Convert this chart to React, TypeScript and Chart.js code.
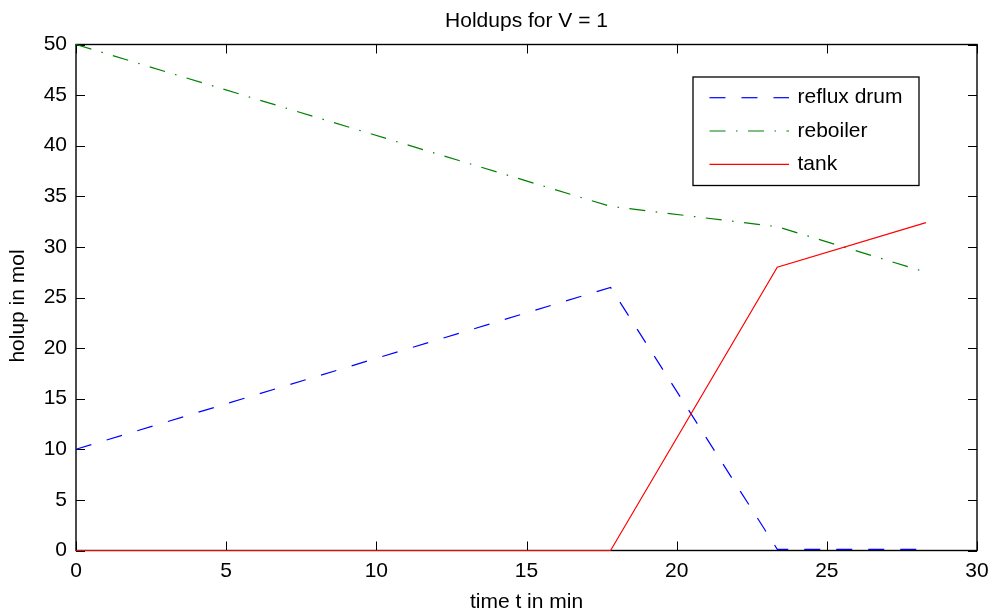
import React, { useEffect, useRef } from "react";
import { Chart, registerables } from "chart.js";

Chart.register(...registerables);

// ---- data ----
const times = [0, 17.8, 23.35, 28.3];
const refluxDrum = [10, 26, 0.12, 0.12];
const reboiler = [50, 34, 32, 27.5];
const tank = [0, 0, 28, 32.4];
const seriesLabels = ["reflux drum", "reboiler", "tank"];
const chartTitle = "Holdups for V = 1";
const xTitle = "time t in min";
const yTitle = "holup in mol";
const xMin = 0, xMax = 30, xStep = 5;
const yMin = 0, yMax = 50, yStep = 5;

const FONT = "'Liberation Sans', Arial, Helvetica, sans-serif";

const toPoints = (ys: number[]) => ys.map((y, i) => ({ x: times[i], y }));

const boxPlugin = {
  id: "matlabBox",
  beforeDatasetsDraw(chart: any) {
    const { ctx, chartArea } = chart;
    const { left, right, top, bottom } = chartArea;
    ctx.save();
    ctx.strokeStyle = "#000";
    ctx.lineWidth = 1;
    const tl = 9;
    const xs = chart.scales.x;
    const ys = chart.scales.y;
    ctx.beginPath();
    xs.ticks.forEach((t: any) => {
      const px = Math.round(xs.getPixelForValue(t.value)) + 0.5;
      ctx.moveTo(px, bottom);
      ctx.lineTo(px, bottom - tl);
      ctx.moveTo(px, top);
      ctx.lineTo(px, top + tl);
    });
    ys.ticks.forEach((t: any) => {
      const py = Math.round(ys.getPixelForValue(t.value)) + 0.5;
      ctx.moveTo(left, py);
      ctx.lineTo(left + tl, py);
      ctx.moveTo(right, py);
      ctx.lineTo(right - tl, py);
    });
    ctx.stroke();
    ctx.lineWidth = 1.4;
    ctx.strokeRect(left, top, right - left, bottom - top);
    ctx.restore();
  },
  afterDraw(chart: any) {
    const { ctx, chartArea } = chart;
    ctx.save();
    ctx.translate(18, (chartArea.top + chartArea.bottom) / 2 + 8.5);
    ctx.rotate(-Math.PI / 2);
    ctx.fillStyle = "#000";
    ctx.font = `21px ${FONT}`;
    ctx.textAlign = "center";
    ctx.textBaseline = "middle";
    ctx.fillText(yTitle, 0, 0);
    ctx.restore();
  },
};

const legendPlugin = {
  id: "matlabLegend",
  afterDraw(chart: any) {
    const { ctx, chartArea } = chart;
    const ds = chart.data.datasets;
    const boxRight = chartArea.right - 58;
    const boxLeft = boxRight - 226;
    const boxTop = chartArea.top + 32.5;
    const rowH = 33.3;
    const boxH = 108.5;
    ctx.save();
    ctx.fillStyle = "#fff";
    ctx.fillRect(boxLeft, boxTop, boxRight - boxLeft, boxH);
    ctx.strokeStyle = "#000";
    ctx.lineWidth = 1.3;
    ctx.strokeRect(boxLeft, boxTop, boxRight - boxLeft, boxH);
    ds.forEach((d: any, i: number) => {
      const y = boxTop + 20.7 + i * rowH;
      ctx.beginPath();
      ctx.strokeStyle = d.borderColor;
      ctx.lineWidth = d.borderWidth;
      ctx.setLineDash(d.borderDash || []);
      ctx.moveTo(boxLeft + 16.5, y);
      ctx.lineTo(boxLeft + 96, y);
      ctx.stroke();
      ctx.setLineDash([]);
      ctx.fillStyle = "#000";
      ctx.font = `21px ${FONT}`;
      ctx.textBaseline = "middle";
      ctx.textAlign = "left";
      ctx.fillText(d.label, boxLeft + 104.5, y);
    });
    ctx.restore();
  },
};

export default function App() {
  const ref = useRef<HTMLCanvasElement | null>(null);
  useEffect(() => {
    document.body.style.margin = "0";
    if (!ref.current) return;
    const chart = new Chart(ref.current, {
      type: "line",
      data: {
        datasets: [
          {
            label: seriesLabels[0],
            data: toPoints(refluxDrum),
            borderColor: "#0000ff",
            borderWidth: 1.2,
            borderDash: [16, 16],
            pointRadius: 0,
            fill: false,
            tension: 0,
            clip: 6,
            order: 2,
          },
          {
            label: seriesLabels[1],
            data: toPoints(reboiler),
            borderColor: "#008000",
            borderWidth: 1.2,
            borderDash: [16, 10.5, 1.5, 10.5],
            pointRadius: 0,
            fill: false,
            tension: 0,
            clip: 6,
            order: 1,
          },
          {
            label: seriesLabels[2],
            data: toPoints(tank),
            borderColor: "#ff0000",
            borderWidth: 1.2,
            pointRadius: 0,
            fill: false,
            tension: 0,
            clip: 6,
            order: 0,
          },
        ],
      },
      options: {
        animation: false,
        responsive: false,
        maintainAspectRatio: false,
        layout: { padding: { left: 0, right: 17, top: 0, bottom: 0 } },
        plugins: {
          legend: { display: false },
          tooltip: { enabled: false },
          title: {
            display: true,
            text: chartTitle,
            fullSize: false,
            color: "#000",
            font: { family: FONT, size: 21, weight: "normal", lineHeight: 1.2 },
            padding: { top: 8.5, bottom: 10.8 },
          },
        },
        scales: {
          x: {
            type: "linear",
            min: xMin,
            max: xMax,
            grid: { display: false, drawTicks: false },
            border: { display: false },
            ticks: {
              stepSize: xStep,
              color: "#000",
              padding: 8.6,
              maxRotation: 0,
              font: { family: FONT, size: 21, lineHeight: 1.2 },
            },
            title: {
              display: true,
              text: xTitle,
              color: "#000",
              font: { family: FONT, size: 21, lineHeight: 1 },
              padding: { top: 0, bottom: 1 },
            },
            afterFit: (s: any) => {
              s.height = 63.5;
              s.paddingRight = 0;
              s.paddingLeft = 0;
            },
          },
          y: {
            type: "linear",
            min: yMin,
            max: yMax,
            grid: { display: false, drawTicks: false },
            border: { display: false },
            ticks: {
              stepSize: yStep,
              color: "#000",
              padding: 9,
              font: { family: FONT, size: 21, lineHeight: 1.2 },
            },
            title: { display: false },
            afterFit: (s: any) => {
              s.width = 76;
              s.paddingTop = 0;
              s.paddingBottom = 0;
            },
          },
        },
      },
      plugins: [boxPlugin, legendPlugin],
    });
    return () => chart.destroy();
  }, []);
  return (
    <div style={{ width: 994, height: 614 }}>
      <canvas ref={ref} width={994} height={614} />
    </div>
  );
}
